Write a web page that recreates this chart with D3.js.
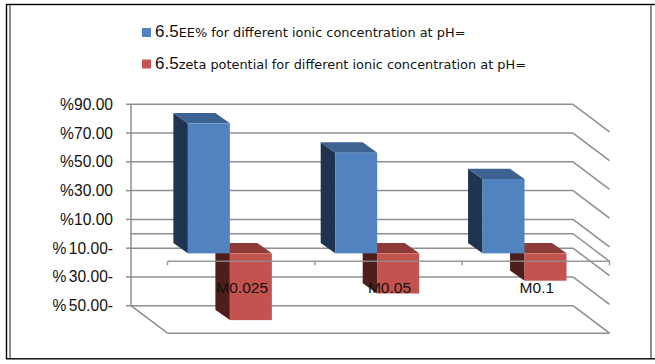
<!DOCTYPE html>
<html>
<head>
<meta charset="utf-8">
<script src="https://cdn.jsdelivr.net/npm/d3@7"></script>
<style>
  body { margin: 0; background: #fff; overflow: hidden; }
  svg { display: block; }
  .tick-label { font-family: "Liberation Sans", Arial, sans-serif; font-size: 15.6px; word-spacing: -2px; fill: #111; }
  .cat-label { font-family: "Liberation Sans", Arial, sans-serif; font-size: 15.5px; fill: #111; }
  .legend-num { font-family: "Liberation Sans", Arial, sans-serif; font-size: 17px; fill: #111; }
  .legend-text { font-family: "DejaVu Sans", sans-serif; font-size: 12.9px; fill: #111; }
</style>
</head>
<body>
<div id="chart"></div>
<script>
var categories = ["M0.025", "M0.05", "M0.1"];
var eeValues = [90.4, 70, 51.7];
var zetaValues = [-46.4, -27.9, -19];
var gridTicks = [90, 70, 50, 30, 10, 0, -10, -30, -50];
var tickLabels = ["%90.00", "%70.00", "%50.00", "%30.00", "%10.00", "", "% 10.00-", "% 30.00-", "% 50.00-"];
var legendNums = ["6.5", "6.5"];
var legendTexts = ["EE% for different ionic concentration at pH=", "zeta potential for different ionic concentration at pH="];

var svgWidth = 655;
var svgHeight = 364;

var svg = d3.select("#chart")
  .append("svg")
  .attr("width", svgWidth)
  .attr("height", svgHeight);

// frame
svg.append("rect").attr("x", 6.5).attr("y", 4.5).attr("width", 660).attr("height", 354.3)
  .attr("fill", "none").attr("stroke", "#000").attr("stroke-width", 1.4);
svg.append("line").attr("x1", 10).attr("x2", 10).attr("y1", 5).attr("y2", 358)
  .attr("stroke", "#8c8c8c").attr("stroke-width", 2);
svg.append("line").attr("x1", 651).attr("x2", 651).attr("y1", 5).attr("y2", 358)
  .attr("stroke", "#8c8c8c").attr("stroke-width", 2);

// oblique projection offsets
var wallLeft = 131, wallRight = 573;
var floorDx = 36.5, floorDy = 27.5;
var planeDy = 19.6, planeDx = 25.2;
var barDx = 14.5, barDy = 10.3;

var y = d3.scaleLinear().domain([-50, 90]).range([305.7, 104.3]);

var grid = svg.append("g").attr("stroke", "#8e8e8e").attr("stroke-width", 1.5).attr("fill", "none");
gridTicks.forEach(function (t) {
  var yy = y(t);
  if (t !== 0) {
    grid.append("line").attr("x1", wallLeft - 5).attr("x2", wallLeft).attr("y1", yy).attr("y2", yy);
  }
  grid.append("line").attr("x1", wallLeft).attr("x2", wallRight).attr("y1", yy).attr("y2", yy);
  grid.append("line").attr("x1", wallRight).attr("x2", wallRight + floorDx).attr("y1", yy).attr("y2", yy + floorDy);
});
grid.append("line").attr("x1", wallLeft).attr("x2", wallLeft).attr("y1", y(90)).attr("y2", y(-50));
grid.append("line").attr("x1", wallLeft).attr("x2", wallLeft + floorDx).attr("y1", y(-50)).attr("y2", y(-50) + floorDy);
grid.append("line").attr("x1", wallLeft + floorDx).attr("x2", wallRight + floorDx).attr("y1", y(-50) + floorDy).attr("y2", y(-50) + floorDy);

svg.append("g").selectAll("text").data(tickLabels).join("text")
  .attr("class", "tick-label")
  .attr("x", 113)
  .attr("y", (d, i) => y(gridTicks[i]) + 5.5)
  .attr("text-anchor", "end")
  .text(d => d);

// categories
var x = d3.scaleBand().domain(categories)
  .range([wallLeft + planeDx, wallRight + planeDx])
  .paddingInner(0.43).paddingOuter(0.215);

var yBar = v => y(v) + planeDy;

function bar3d(g, x0, w, value, cols) {
  var y0 = yBar(Math.max(value, 0));
  var y1 = yBar(Math.min(value, 0));
  // left side
  g.append("polygon")
    .attr("points", [[x0, y0], [x0 - barDx, y0 - barDy], [x0 - barDx, y1 - barDy], [x0, y1]].join(" "))
    .attr("fill", cols.side);
  // top
  g.append("polygon")
    .attr("points", [[x0, y0], [x0 - barDx, y0 - barDy], [x0 - barDx + w, y0 - barDy], [x0 + w, y0]].join(" "))
    .attr("fill", cols.top);
  // front
  g.append("rect")
    .attr("x", x0).attr("y", y0).attr("width", w).attr("height", y1 - y0)
    .attr("fill", cols.front);
}

var blue = { front: "#5183c1", side: "#1f354f", top: "#3c6391" };
var red = { front: "#c4534f", side: "#4e1e1c", top: "#8e3a37" };

var bars = svg.append("g");
categories.forEach(function (c, i) {
  var w = x.bandwidth() / 2;
  bar3d(bars, x(c) + w, w, zetaValues[i], red);
  bar3d(bars, x(c), w, eeValues[i], blue);
});

// category axis in front
var xFront = d3.scaleBand().domain(categories).range([wallLeft + floorDx, wallRight + floorDx]);
var axisY = y(0) + floorDy;
var axis = svg.append("g").attr("stroke", "#8e8e8e").attr("stroke-width", 1.5).attr("opacity", 0.9);
axis.append("line").attr("x1", wallLeft + floorDx).attr("x2", wallRight + floorDx).attr("y1", axisY).attr("y2", axisY);
xFront.domain().concat(["end"]).forEach(function (c) {
  var px = c === "end" ? wallRight + floorDx : xFront(c);
  axis.append("line").attr("x1", px).attr("x2", px).attr("y1", axisY).attr("y2", axisY + 4);
});

svg.append("g").selectAll("text").data(categories).join("text")
  .attr("class", "cat-label")
  .attr("x", d => xFront(d) + xFront.bandwidth() / 2 + 1)
  .attr("y", 293)
  .attr("text-anchor", "middle")
  .text(d => d);

// legend
var legendColors = [blue.front, red.front];
legendTexts.forEach(function (t, i) {
  var ly = 28 + i * 31.5;
  svg.append("rect").attr("x", 142).attr("y", ly).attr("width", 9).attr("height", 9).attr("fill", legendColors[i]);
  var txt = svg.append("text").attr("x", 155).attr("y", ly + 9);
  txt.append("tspan").attr("class", "legend-num").text(legendNums[i]);
  txt.append("tspan").attr("class", "legend-text").text(t);
});
</script>
</body>
</html>
